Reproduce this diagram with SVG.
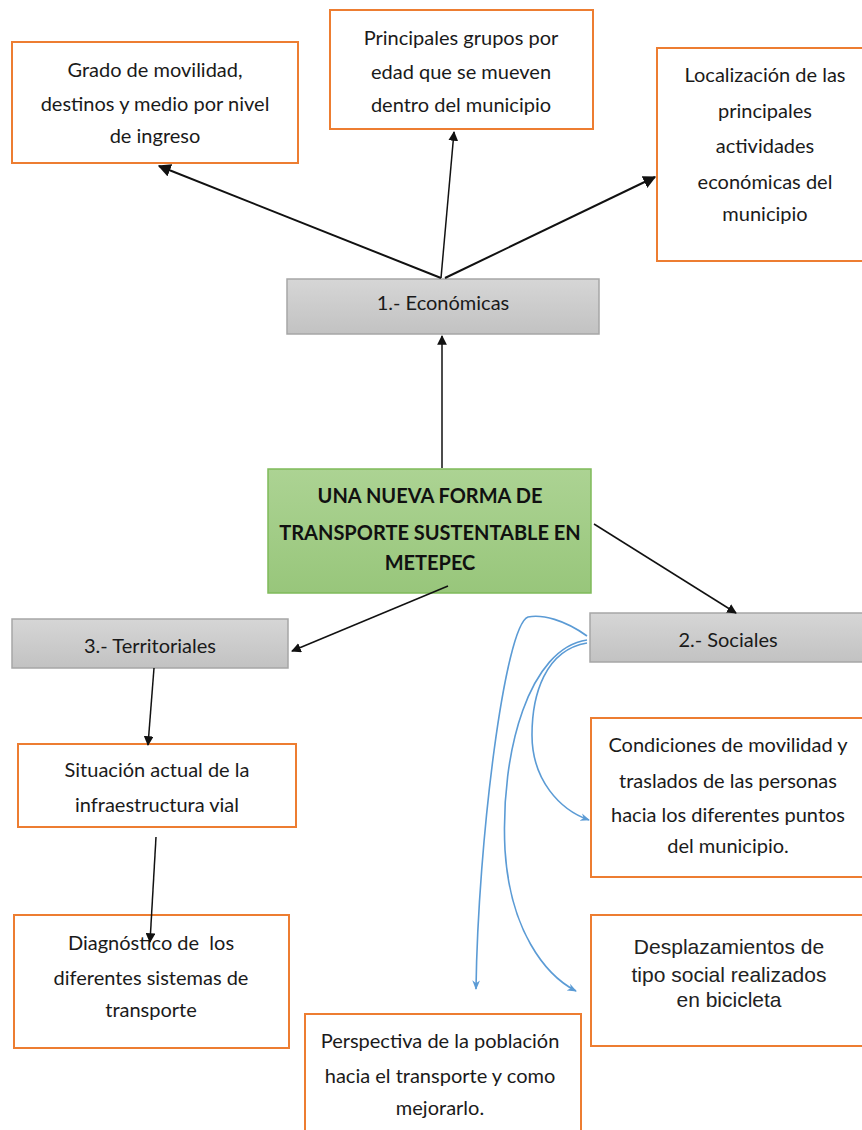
<svg xmlns="http://www.w3.org/2000/svg" width="862" height="1130" viewBox="0 0 862 1130">
<style>
.box{fill:#fff;stroke:#ED7D31;stroke-width:2}
.gray{fill:url(#gg);stroke:#a6a6a6;stroke-width:1.5}
.green{fill:url(#gr);stroke:#7fba5a;stroke-width:1.5}
text{font-family:Lato,"Open Sans",sans-serif;font-size:20px;fill:#1a1a1a;text-anchor:middle}
.b{font-weight:bold;fill:#111}
.ar{font-family:"Liberation Sans",Arial,sans-serif;font-size:21px;fill:#222}
.blk{stroke:#111;stroke-width:2;fill:none;marker-end:url(#ah)}
.thin{stroke:#111;stroke-width:1.5;fill:none;marker-end:url(#ah)}
.blue{stroke:#5b9bd5;stroke-width:1.6;fill:none;marker-end:url(#bh)}
</style>
<defs>
<linearGradient id="gg" x1="0" y1="0" x2="0" y2="1"><stop offset="0" stop-color="#d6d6d6"/><stop offset="1" stop-color="#c2c2c2"/></linearGradient>
<linearGradient id="gr" x1="0" y1="0" x2="0" y2="1"><stop offset="0" stop-color="#acd393"/><stop offset="1" stop-color="#98c67b"/></linearGradient>
<marker id="ah" viewBox="0 0 10 10" refX="9" refY="5" markerWidth="6.5" markerHeight="6.5" orient="auto" markerUnits="strokeWidth"><path d="M0,0 L10,5 L0,10 z" fill="#111"/></marker>
<marker id="bh" viewBox="0 0 10 10" refX="9" refY="5" markerWidth="6" markerHeight="6" orient="auto" markerUnits="strokeWidth"><path d="M0,1 L10,5 L0,9 L3,5 z" fill="#5b9bd5"/></marker>
</defs>
<g id="n-grado"><rect class="box" x="12" y="42" width="286" height="121"/>
<text x="155" y="77">Grado de movilidad,</text><text x="155" y="111">destinos y medio por nivel</text><text x="155" y="143">de ingreso</text></g>
<g id="n-principales"><rect class="box" x="330" y="10" width="263" height="119"/>
<text x="461" y="45">Principales grupos por</text><text x="461" y="79">edad que se mueven</text><text x="461" y="112">dentro del municipio</text></g>
<g id="n-localizacion"><rect class="box" x="657" y="48" width="215" height="213"/>
<text x="765" y="82">Localización de las</text><text x="765" y="118">principales</text><text x="765" y="153">actividades</text><text x="765" y="189">económicas del</text><text x="765" y="221">municipio</text></g>
<g id="n-economicas"><rect class="gray" x="287" y="279" width="312" height="55"/>
<text x="443" y="310">1.- Económicas</text></g>
<g id="n-central"><rect class="green" x="268" y="469" width="323" height="124"/>
<text class="b" x="430" y="503">UNA NUEVA FORMA DE</text><text class="b" x="430" y="540">TRANSPORTE SUSTENTABLE EN</text><text class="b" x="430" y="570">METEPEC</text></g>
<g id="n-sociales"><rect class="gray" x="590" y="613" width="282" height="49"/>
<text x="728" y="647">2.- Sociales</text></g>
<g id="n-territoriales"><rect class="gray" x="12" y="619" width="276" height="49"/>
<text x="150" y="653">3.- Territoriales</text></g>
<g id="n-situacion"><rect class="box" x="18" y="744" width="278" height="83"/>
<text x="157" y="777">Situación actual de la</text><text x="157" y="812">infraestructura vial</text></g>
<g id="n-diagnostico"><rect class="box" x="14" y="915" width="275" height="133"/>
<text x="151" y="950" xml:space="preserve">Diagnóstico de  los</text><text x="151" y="985">diferentes sistemas de</text><text x="151" y="1017">transporte</text></g>
<g id="n-condiciones"><rect class="box" x="591" y="718" width="281" height="159"/>
<text x="728" y="752">Condiciones de movilidad y</text><text x="728" y="788">traslados de las personas</text><text x="728" y="822">hacia los diferentes puntos</text><text x="728" y="853">del municipio.</text></g>
<g id="n-desplazamientos"><rect class="box" x="591" y="915" width="281" height="131"/>
<text class="ar" x="729" y="954">Desplazamientos de</text><text class="ar" x="729" y="982">tipo social realizados</text><text class="ar" x="729" y="1007">en bicicleta</text></g>
<g id="n-perspectiva"><rect class="box" x="305" y="1014" width="276" height="130"/>
<text x="440" y="1048">Perspectiva de la población</text><text x="440" y="1083">hacia el transporte y como</text><text x="440" y="1115">mejorarlo.</text></g>
<g id="connectors">
<line class="blk" x1="441" y1="278" x2="159" y2="166"/>
<line class="thin" x1="441" y1="278" x2="454" y2="132"/>
<line class="blk" x1="445" y1="278" x2="655" y2="177"/>
<line class="thin" x1="442" y1="468" x2="442" y2="336"/>
<line class="thin" x1="594" y1="524" x2="736" y2="613"/>
<line class="thin" x1="448" y1="586" x2="292" y2="651"/>
<line class="thin" x1="154" y1="668" x2="148" y2="745"/>
<line class="thin" x1="156" y1="837" x2="150" y2="942"/>
<path class="blue" d="M587,636 C565,620 542,614 528,617 C505,625 478,840 476,989"/>
<path class="blue" d="M587,640 C530,648 500,750 505,850 C510,930 545,975 576,991"/>
<path class="blue" d="M587,643 C545,650 532,695 532,735 C532,780 560,810 589,820"/>
</g>
</svg>
